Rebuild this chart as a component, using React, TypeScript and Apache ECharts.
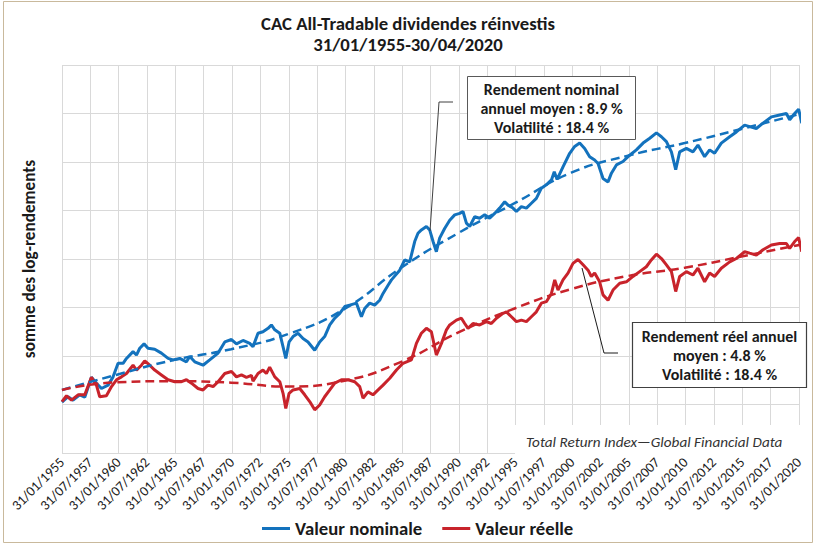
import React, { useEffect, useRef } from "react";
import * as echarts from "echarts";

const titleLines = ["CAC All-Tradable dividendes réinvestis", "31/01/1955-30/04/2020"];
const yAxisName = "somme des log-rendements";
const seriesNames = ["Valeur nominale", "Valeur réelle"];
const sourceText = "Total Return Index\u2014Global Financial Data";
const nominalNote = ["Rendement nominal", "annuel moyen : 8.9 %", "Volatilité : 18.4 %"];
const realNote = ["Rendement réel annuel", "moyen : 4.8 %", "Volatilité : 18.4 %"];

// x axis: months since 31/01/1955, a label every 30 months
const AXIS_START = 1955 + 1 / 12; // 31/01/1955
const X_MIN = 0;
const X_MAX = 780;
const X_STEP = 30;
const Y_MIN = -1;
const Y_MAX = 7;
const Y_STEP = 1;

// [year, sum of log-returns]
const nominal: [number, number][] = [
  [1955.08, 0.05], [1955.62, 0.16], [1956.06, 0.09], [1956.65, 0.2], [1957.09, 0.15], [1957.68, 0.56],
  [1958.12, 0.44], [1958.56, 0.33], [1959.15, 0.4], [1959.59, 0.57], [1960.03, 0.85], [1960.47, 0.85],
  [1960.77, 0.95], [1961.35, 1.09], [1961.65, 1.02], [1961.94, 1.16], [1962.32, 1.25], [1962.67, 1.16],
  [1963.26, 1.14], [1963.85, 1.06], [1964.44, 0.95], [1964.88, 0.92], [1965.47, 0.95], [1966.06, 0.88],
  [1966.35, 0.99], [1966.79, 0.88], [1967.52, 0.81], [1968.11, 0.92], [1968.85, 1.06], [1969.44, 1.29],
  [1970.03, 1.34], [1970.47, 1.25], [1971.05, 1.32], [1971.64, 1.26], [1971.93, 1.19], [1972.37, 1.47],
  [1972.81, 1.5], [1973.26, 1.57], [1973.55, 1.64], [1973.85, 1.54], [1974.29, 1.47], [1974.58, 1.19],
  [1974.82, 0.95], [1975.11, 1.29], [1975.46, 1.4], [1975.9, 1.47], [1976.34, 1.36], [1976.78, 1.29],
  [1977.37, 1.12], [1977.81, 1.29], [1978.25, 1.4], [1978.7, 1.64], [1979.14, 1.78], [1979.58, 1.88],
  [1980.02, 2.02], [1980.46, 2.05], [1981.05, 2.09], [1981.49, 1.81], [1981.78, 1.98], [1982.22, 2.09],
  [1982.66, 2.05], [1983.1, 2.15], [1983.4, 2.29], [1983.84, 2.46], [1984.14, 2.57], [1984.87, 2.77],
  [1985.31, 2.98], [1985.75, 2.94], [1986.19, 3.36], [1986.48, 3.53], [1986.78, 3.6], [1987.22, 3.67],
  [1987.51, 3.6], [1987.81, 3.36], [1988.1, 3.15], [1988.39, 3.43], [1988.83, 3.63], [1989.28, 3.8],
  [1989.72, 3.91], [1990.16, 3.94], [1990.45, 3.98], [1990.75, 3.74], [1991.04, 3.67], [1991.48, 3.87],
  [1991.92, 3.84], [1992.36, 3.91], [1992.8, 3.84], [1993.24, 3.94], [1993.68, 4.05], [1994.13, 4.18],
  [1994.42, 4.11], [1994.86, 4.05], [1995.16, 3.98], [1995.6, 4.08], [1996.04, 4.05], [1996.48, 4.15],
  [1996.92, 4.25], [1997.36, 4.46], [1997.8, 4.53], [1998.25, 4.63], [1998.5, 4.8], [1998.75, 4.64],
  [1999.27, 4.9], [1999.86, 5.18], [2000.3, 5.32], [2000.74, 5.39], [2001.18, 5.28], [2001.62, 5.11],
  [2002.06, 5.04], [2002.36, 4.97], [2002.8, 4.66], [2003.24, 4.59], [2003.54, 4.77], [2003.98, 4.94],
  [2004.56, 5.01], [2005.15, 5.14], [2005.74, 5.25], [2006.33, 5.39], [2006.92, 5.49], [2007.51, 5.6],
  [2007.95, 5.52], [2008.39, 5.42], [2008.83, 5.21], [2009.21, 4.84], [2009.56, 5.21], [2010.15, 5.28],
  [2010.73, 5.21], [2011.17, 5.35], [2011.76, 5.11], [2012.2, 5.25], [2012.64, 5.18], [2013.23, 5.39],
  [2013.97, 5.52], [2014.56, 5.62], [2015.29, 5.76], [2015.73, 5.73], [2016.32, 5.69], [2016.91, 5.8],
  [2017.65, 5.93], [2018.38, 5.97], [2018.97, 6.0], [2019.26, 5.87], [2019.7, 6.0], [2020.05, 6.09],
  [2020.33, 5.8],
];

const real: [number, number][] = [
  [1955.08, 0.06], [1955.48, 0.18], [1955.92, 0.09], [1956.5, 0.2], [1957.09, 0.2], [1957.68, 0.56],
  [1958.12, 0.4], [1958.41, 0.16], [1959.0, 0.18], [1959.45, 0.37], [1959.89, 0.51], [1960.33, 0.57],
  [1960.77, 0.64], [1961.35, 0.81], [1961.65, 0.71], [1962.09, 0.81], [1962.38, 0.9], [1962.82, 0.81],
  [1963.26, 0.71], [1963.85, 0.61], [1964.44, 0.51], [1965.03, 0.47], [1965.62, 0.47], [1966.06, 0.51],
  [1966.5, 0.44], [1967.08, 0.33], [1967.52, 0.3], [1967.96, 0.4], [1968.41, 0.37], [1968.85, 0.47],
  [1969.44, 0.64], [1970.03, 0.68], [1970.47, 0.57], [1970.91, 0.61], [1971.35, 0.56], [1971.79, 0.6],
  [1971.93, 0.48], [1972.37, 0.64], [1972.81, 0.71], [1973.11, 0.64], [1973.4, 0.77], [1973.85, 0.57],
  [1974.29, 0.47], [1974.58, 0.23], [1974.82, -0.08], [1975.11, 0.23], [1975.46, 0.3], [1976.05, 0.33],
  [1976.49, 0.2], [1976.93, 0.06], [1977.37, -0.11], [1977.81, -0.01], [1978.25, 0.16], [1978.7, 0.3],
  [1979.14, 0.44], [1979.73, 0.51], [1980.31, 0.51], [1980.9, 0.47], [1981.34, 0.37], [1981.63, 0.13],
  [1982.07, 0.26], [1982.51, 0.2], [1982.96, 0.3], [1983.4, 0.4], [1983.99, 0.54], [1984.58, 0.71],
  [1985.16, 0.85], [1985.9, 0.92], [1986.34, 1.26], [1986.78, 1.47], [1987.22, 1.57], [1987.66, 1.5],
  [1988.1, 1.02], [1988.55, 1.26], [1988.99, 1.54], [1989.28, 1.64], [1989.87, 1.74], [1990.31, 1.78],
  [1990.6, 1.67], [1990.89, 1.57], [1991.33, 1.67], [1991.92, 1.64], [1992.51, 1.71], [1992.95, 1.67],
  [1993.4, 1.78], [1993.98, 1.88], [1994.28, 1.91], [1994.72, 1.81], [1995.16, 1.71], [1995.6, 1.74],
  [1996.04, 1.71], [1996.48, 1.81], [1996.92, 1.91], [1997.36, 2.09], [1997.8, 2.12], [1998.25, 2.29],
  [1998.54, 2.57], [1998.83, 2.36], [1999.27, 2.57], [1999.71, 2.71], [2000.15, 2.91], [2000.59, 2.99],
  [2001.04, 2.88], [2001.48, 2.77], [2001.77, 2.64], [2002.06, 2.71], [2002.5, 2.53], [2002.8, 2.26],
  [2003.24, 2.15], [2003.68, 2.36], [2004.27, 2.5], [2004.86, 2.53], [2005.44, 2.64], [2006.03, 2.74],
  [2006.62, 2.84], [2007.06, 2.98], [2007.51, 3.1], [2007.95, 3.01], [2008.39, 2.88], [2008.83, 2.74],
  [2009.21, 2.33], [2009.56, 2.64], [2010.15, 2.74], [2010.73, 2.67], [2011.17, 2.81], [2011.76, 2.53],
  [2012.2, 2.71], [2012.64, 2.64], [2013.23, 2.81], [2013.97, 2.94], [2014.56, 3.01], [2015.29, 3.15],
  [2015.73, 3.12], [2016.32, 3.08], [2016.91, 3.19], [2017.65, 3.29], [2018.38, 3.32], [2018.97, 3.32],
  [2019.26, 3.22], [2019.7, 3.36], [2020.05, 3.44], [2020.33, 3.15],
];

const nominalTrend: [number, number][] = [
  [1955.08, 0.3], [1960, 0.62], [1965, 0.92], [1970, 1.14], [1975, 1.45], [1980, 1.97], [1985, 2.82],
  [1990, 3.53], [1995, 4.15], [2000, 4.78], [2005, 5.13], [2010, 5.39], [2015, 5.68], [2020.33, 6.0],
];

const realTrend: [number, number][] = [
  [1955.08, 0.3], [1960, 0.46], [1965, 0.48], [1970, 0.45], [1975, 0.37], [1980, 0.49], [1985, 0.88],
  [1990, 1.48], [1995, 1.98], [2000, 2.38], [2005, 2.65], [2010, 2.82], [2015, 3.05], [2020.33, 3.3],
];

const BLUE = "#1372bd";
const RED = "#c8232b";
const FONT = "Carlito, Lato, sans-serif";

const toMonths = (pts: [number, number][]) =>
  pts.map(([yr, v]) => [(yr - AXIS_START) * 12, v]);

const monthLabel = (m: number) => {
  if (m % X_STEP !== 0) return "";
  const year = 1955 + Math.floor(m / 12);
  const month = (m % 12) + 1;
  return "31/" + String(month).padStart(2, "0") + "/" + year;
};

export default function App() {
  const ref = useRef<HTMLDivElement>(null);
  useEffect(() => {
    if (!ref.current) return;
    const chart = echarts.init(ref.current, undefined, { renderer: "svg" });
    const lineBase = { type: "line" as const, symbol: "none", showSymbol: false, clip: false, silent: true };
    chart.setOption({
      animation: false,
      backgroundColor: "#ffffff",
      title: {
        text: titleLines.join("\n"),
        left: "center",
        top: 13,
        padding: 0,
        textStyle: { fontFamily: FONT, fontWeight: "bold", fontSize: 18.7, lineHeight: 21, color: "#1a1a1a" },
      },
      legend: {
        data: seriesNames,
        top: 519,
        left: 262,
        padding: 0,
        icon: "rect",
        itemWidth: 28,
        itemHeight: 3,
        itemGap: 20,
        textStyle: { fontFamily: FONT, fontWeight: "bold", fontSize: 18.7, color: "#1a1a1a" },
      },
      grid: { left: 62, right: 17, top: 65, bottom: 92, containLabel: false },
      xAxis: {
        type: "value",
        min: X_MIN,
        max: X_MAX,
        interval: X_STEP,
        axisLine: { show: false },
        axisTick: { show: false },
        splitLine: { show: true, lineStyle: { color: "#d9d9d9", width: 1 } },
        axisLabel: {
          rotate: 45,
          margin: 7,
          fontFamily: FONT,
          fontSize: 14,
          color: "#1a1a1a",
          formatter: (v: number) => monthLabel(v),
        },
      },
      yAxis: {
        type: "value",
        min: Y_MIN,
        max: Y_MAX,
        interval: Y_STEP,
        name: yAxisName,
        nameLocation: "middle",
        nameRotate: 90,
        nameGap: 24,
        nameTextStyle: { fontFamily: FONT, fontWeight: "bold", fontSize: 17.2, color: "#1a1a1a" },
        axisLine: { show: false },
        axisTick: { show: false },
        axisLabel: { show: false },
        splitLine: { show: true, lineStyle: { color: "#d9d9d9", width: 1 } },
      },
      series: [
        { ...lineBase, name: seriesNames[0], data: toMonths(nominal), lineStyle: { color: BLUE, width: 3 }, itemStyle: { color: BLUE }, z: 3 },
        { ...lineBase, name: seriesNames[1], data: toMonths(real), lineStyle: { color: RED, width: 3 }, itemStyle: { color: RED }, z: 3 },
        { ...lineBase, name: "tendance nominale", smooth: true, data: toMonths(nominalTrend), lineStyle: { color: BLUE, width: 2.5, type: [9, 5] }, z: 4 },
        { ...lineBase, name: "tendance réelle", smooth: true, data: toMonths(realTrend), lineStyle: { color: RED, width: 2.5, type: [9, 5] }, z: 4 },
      ],
      graphic: [
        { type: "rect", shape: { x: 3.5, y: 1.5, width: 809, height: 541 }, style: { fill: "none", stroke: "#c9b99c", lineWidth: 1 }, z: 10 },
        { type: "rect", shape: { x: 515, y: 425, width: 292, height: 31 }, style: { fill: "#ffffff" }, z: 1 },
        {
          type: "text", x: 526, y: 442, z: 2,
          style: { text: sourceText, font: "italic 15.2px " + FONT, fill: "#333333", textVerticalAlign: "middle" },
        },
        { type: "polyline", shape: { points: [[453, 102], [439, 102], [430, 231]] }, style: { stroke: "#404040", lineWidth: 1, fill: "none" }, z: 20 },
        { type: "rect", shape: { x: 467.5, y: 76.5, width: 168, height: 63 }, style: { fill: "#ffffff", stroke: "#595959", lineWidth: 1 }, z: 20 },
        {
          type: "text", x: 551.5, y: 108, z: 21,
          style: { text: nominalNote.join("\n"), font: "bold 16px " + FONT, lineHeight: 19, fill: "#1a1a1a", textAlign: "center", textVerticalAlign: "middle" },
        },
        { type: "polyline", shape: { points: [[618, 353], [604, 353], [582, 268]] }, style: { stroke: "#1a1a1a", lineWidth: 1, fill: "none" }, z: 20 },
        { type: "rect", shape: { x: 632.5, y: 322.5, width: 174, height: 65 }, style: { fill: "#ffffff", stroke: "#404040", lineWidth: 1.2 }, z: 20 },
        {
          type: "text", x: 719.5, y: 355.5, z: 21,
          style: { text: realNote.join("\n"), font: "bold 16px " + FONT, lineHeight: 19, fill: "#1a1a1a", textAlign: "center", textVerticalAlign: "middle" },
        },
      ],
    });
    return () => chart.dispose();
  }, []);
  return <div ref={ref} style={{ position: "absolute", left: 0, top: 0, width: 816, height: 545 }} />;
}
